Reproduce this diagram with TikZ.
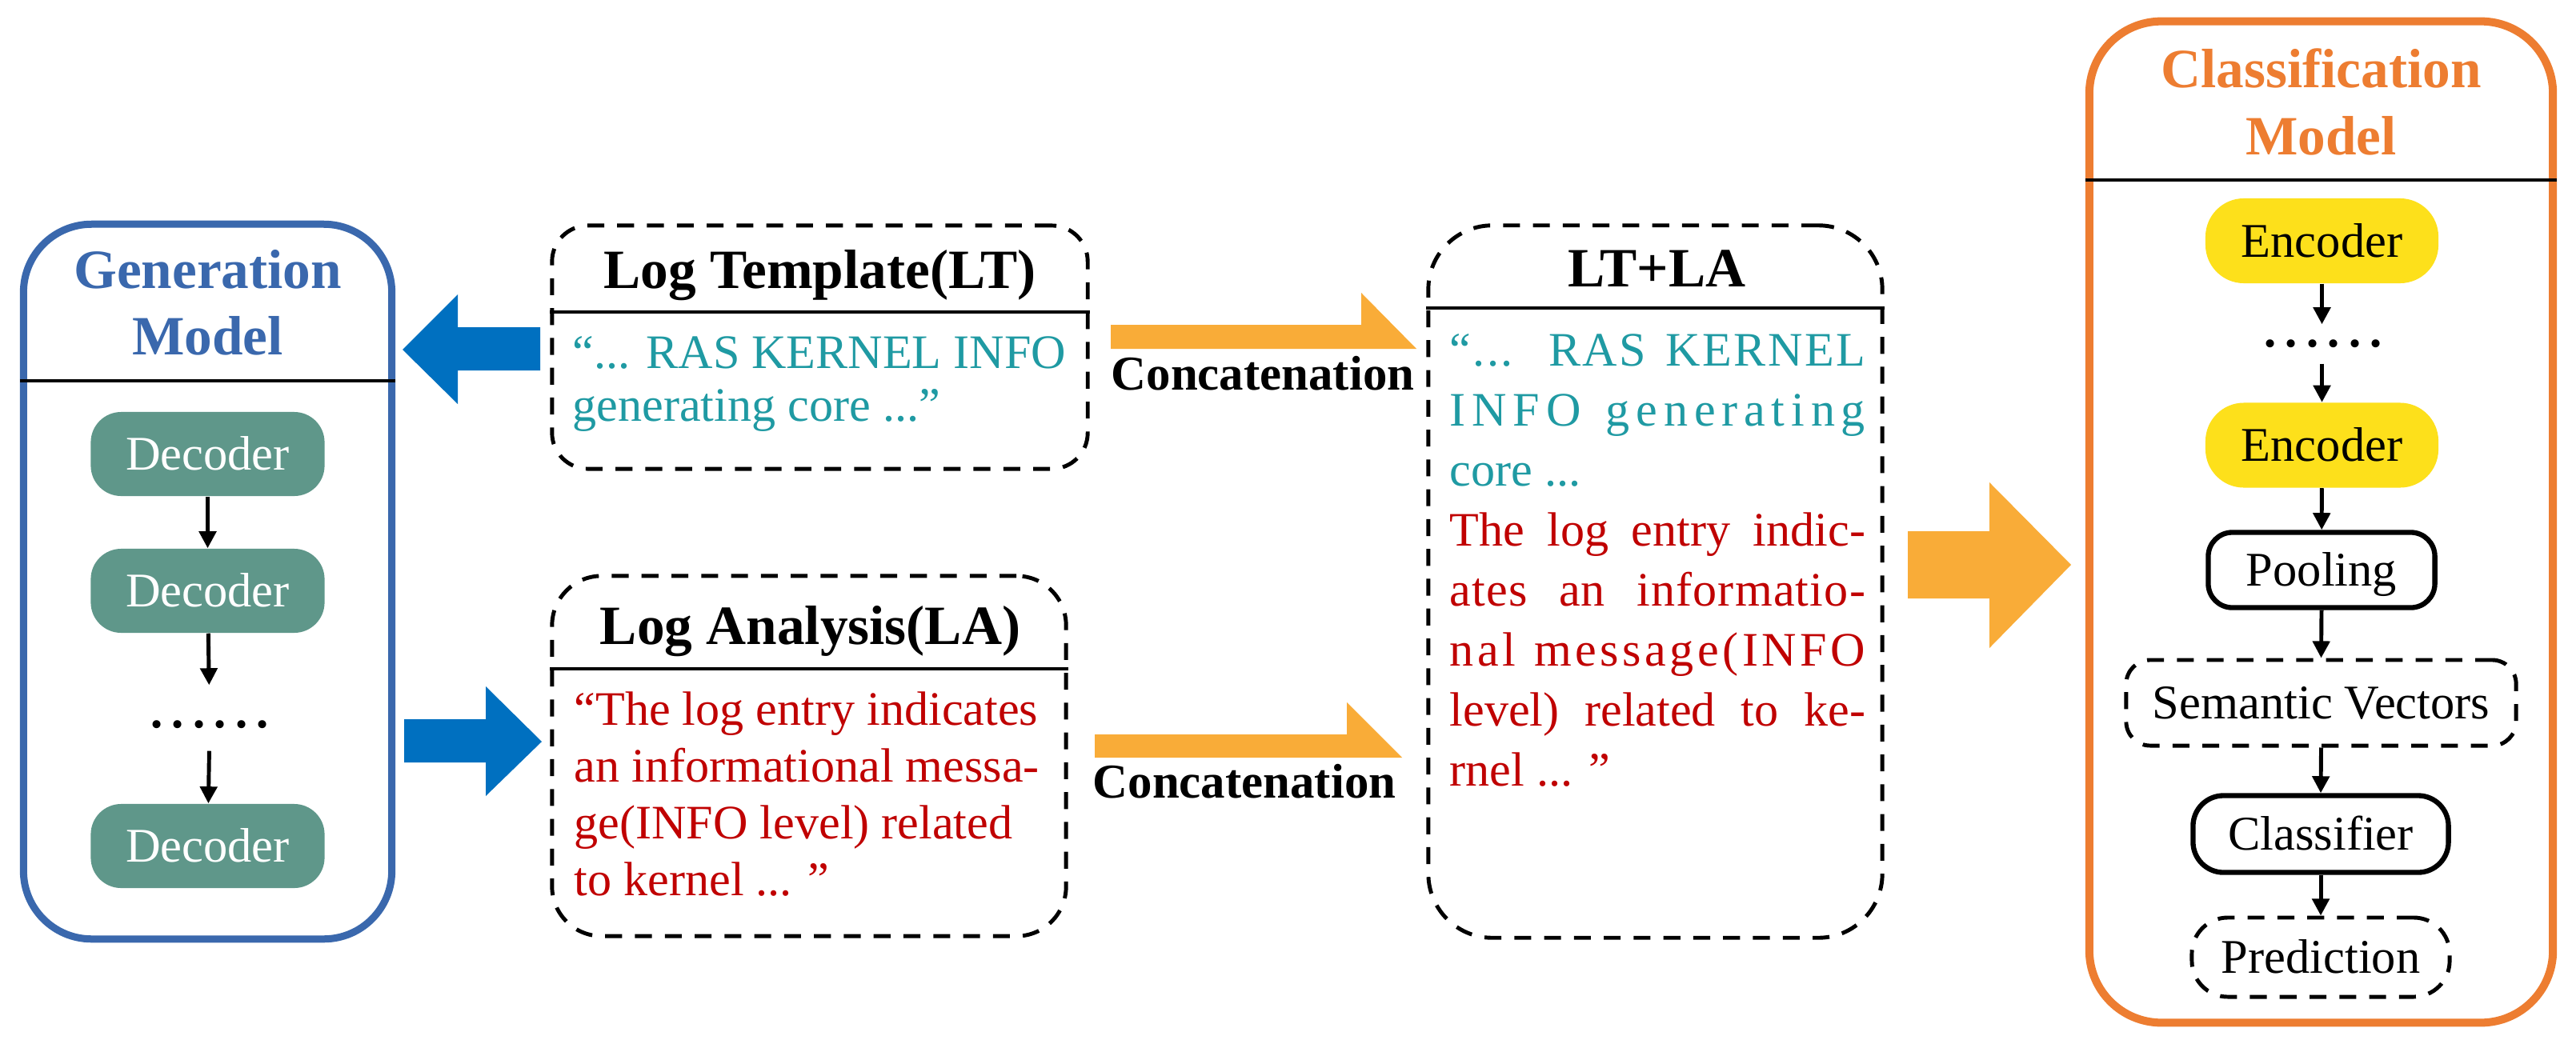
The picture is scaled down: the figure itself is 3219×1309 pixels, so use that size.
\documentclass[tikz,border=0pt]{standalone}
\usepackage{fontspec}
\setmainfont{Liberation Serif}
\usetikzlibrary{arrows.meta}
\definecolor{genblue}{HTML}{3A68AD}
\definecolor{arrblue}{HTML}{0070C0}
\definecolor{decgreen}{HTML}{5F978A}
\definecolor{clsorange}{HTML}{ED7D31}
\definecolor{arrorange}{HTML}{F9AC38}
\definecolor{encyellow}{HTML}{FDE01B}
\definecolor{tealtxt}{HTML}{1F9AA3}
\definecolor{redtxt}{HTML}{C00000}
\newlength\jw \setlength\jw{5.19cm}
\newcommand\ttlfont{\fontsize{19.7}{23}\selectfont\bfseries}
\newcommand\bodyfont{\fontsize{17.1}{20}\selectfont}
\newcommand\compfont{\fontsize{17.2}{20}\selectfont}
\newcommand\catfont{\fontsize{17.3}{20}\selectfont\bfseries}
\newcommand\dotsfont{\fontsize{24}{24}\selectfont\addfontfeature{LetterSpace=6.4}}
\begin{document}
\begin{tikzpicture}[x=0.01cm,y=-0.01cm,
  frame/.style={rectangle, inner sep=0pt},
  comp/.style={rectangle, inner sep=0pt, font=\compfont, text height=0.40cm, text depth=0cm},
  dashbox/.style={draw=black, line width=1.4pt, dash pattern=on 6pt off 4.6pt},
  sepline/.style={line width=1.1pt},
  arr/.style={line width=1.4pt, -{Triangle[length=6pt,width=6pt]}},
  txt/.style={inner sep=0pt}]
\useasboundingbox (0,0) rectangle (3219,1309);
\fill[white] (0,0) rectangle (3219,1309);

% ---------------- Generation model ----------------
\node[frame, draw=genblue, line width=2.56pt, rounded corners=0.85cm,
      minimum width=4.60cm, minimum height=8.93cm] (gen) at (259.5,727) {};
\coordinate (gsep) at (0,476);
\draw[sepline] (gen.west |- gsep) -- (gen.east |- gsep);
\node[txt, anchor=base, font=\ttlfont, text=genblue] (gt1) at (259.5,360) {Generation};
\node[txt, anchor=base, font=\ttlfont, text=genblue] (gt2) at (259.5,443) {Model};
\tikzset{decbox/.style={comp, fill=decgreen, text=white, rounded corners=0.38cm,
      minimum width=2.92cm, minimum height=1.05cm}}
\node[decbox] (dec1) at (259.5,567.5) {Decoder};
\node[decbox] (dec2) at (259.5,738.5) {Decoder};
\node[txt, font=\dotsfont] (gdots) at (262,906) {......};
\node[decbox] (dec3) at (259.5,1057.5) {Decoder};
\draw[arr] (dec1) -- (dec2);
\draw[arr, shorten >=0.44cm] (dec2) -- (gdots);
\draw[arr, shorten <=0.27cm] (gdots) -- (dec3);

% ---------------- Blue arrows ----------------
\fill[arrblue] (675,409) -- (572,409) -- (572,368) -- (503,437) -- (572,505) -- (572,463) -- (675,463) -- cycle;
\fill[arrblue] (505,899) -- (607,899) -- (607,858) -- (677,927) -- (607,995) -- (607,953) -- (505,953) -- cycle;

% ---------------- Log Template ----------------
\node[frame, dashbox, rounded corners=0.45cm, minimum width=6.69cm, minimum height=3.04cm] (lt) at (1024.5,434) {};
\coordinate (ltsep) at (0,390);
\draw[sepline] (lt.west |- ltsep) -- (lt.east |- ltsep);
\node[txt, anchor=base, font=\ttlfont] (ltt) at (1024.5,360) {Log Template(LT)};
\node[txt, anchor=base west, font=\bodyfont, text=tealtxt] (ltb) at (715,460)
  {\vtop{\baselineskip=18.8pt\hbox{“... RAS KERNEL INFO}\hbox{generating core ...”}}};

% ---------------- Log Analysis ----------------
\node[frame, dashbox, rounded corners=0.62cm, minimum width=6.42cm, minimum height=4.50cm] (la) at (1011,945) {};
\coordinate (lasep) at (0,836);
\draw[sepline] (la.west |- lasep) -- (la.east |- lasep);
\node[txt, anchor=base, font=\ttlfont] (lat) at (1012.5,805) {Log Analysis(LA)};
\node[txt, anchor=base west, font=\bodyfont, text=redtxt] (lab) at (717,906)
  {\vtop{\baselineskip=20.2pt
   \hbox{“The log entry indicates}
   \hbox{an informational messa-}
   \hbox{ge(INFO level) related}
   \hbox{to kernel ... ”}}};

% ---------------- Concatenation arrows ----------------
\fill[arrorange] (1388,406) -- (1701,406) -- (1701,366) -- (1770,436) -- (1388,436) -- cycle;
\fill[arrorange] (1368,918) -- (1683,918) -- (1683,878) -- (1752,947) -- (1368,947) -- cycle;
\node[txt, anchor=base west, font=\catfont] (cat1) at (1388,487) {Concatenation};
\node[txt, anchor=base west, font=\catfont] (cat2) at (1365,997) {Concatenation};

% ---------------- LT+LA ----------------
\node[frame, dashbox, rounded corners=0.8cm, minimum width=5.67cm, minimum height=8.90cm] (ltla) at (2068.5,727) {};
\coordinate (ltlasep) at (0,385);
\draw[sepline] (ltla.west |- ltlasep) -- (ltla.east |- ltlasep);
\node[txt, anchor=base, font=\ttlfont] (ltlat) at (2070.5,358) {LT+LA};
\node[txt, anchor=base west, font=\bodyfont] (ltlab) at (1811,457)
  {\vtop{\baselineskip=21.34pt
   \hbox to\jw{\color{tealtxt}\addfontfeature{LetterSpace=4}“... RAS KERNEL}
   \hbox to\jw{\color{tealtxt}\addfontfeature{LetterSpace=13}INFO generating}
   \hbox{\color{tealtxt}core ...}
   \hbox to\jw{\color{redtxt}The log entry indic-}
   \hbox to\jw{\color{redtxt}\addfontfeature{LetterSpace=2}ates an informatio-}
   \hbox to\jw{\color{redtxt}\addfontfeature{LetterSpace=7.5}nal message(INFO}
   \hbox to\jw{\color{redtxt}level) related to ke-}
   \hbox{\color{redtxt}rnel ... ”}}};

% ---------------- Big orange arrow ----------------
\fill[arrorange] (2384,664) -- (2486,664) -- (2486,603) -- (2588,706) -- (2486,810) -- (2486,748) -- (2384,748) -- cycle;

% ---------------- Classification model ----------------
\node[frame, draw=clsorange, line width=2.85pt, rounded corners=0.9cm,
      minimum width=5.79cm, minimum height=12.51cm] (cls) at (2900.5,652.5) {};
\coordinate (csep) at (0,225);
\draw[sepline] (cls.west |- csep) -- (cls.east |- csep);
\node[txt, anchor=base, font=\ttlfont, text=clsorange] (ct1) at (2900.5,109) {Classification};
\node[txt, anchor=base, font=\ttlfont, text=clsorange] (ct2) at (2900.5,193) {Model};
\tikzset{encbox/.style={comp, fill=encyellow, rounded corners=0.48cm,
      minimum width=2.91cm, minimum height=1.06cm}}
\node[encbox] (enc1) at (2901.5,301) {Encoder};
\node[txt, font=\dotsfont] (cdots) at (2903,430) {......};
\node[encbox] (enc2) at (2901.5,556.5) {Encoder};
\node[comp, draw, line width=1.8pt, rounded corners=0.3cm, minimum width=2.83cm, minimum height=0.94cm] (pool) at (2901,712.5) {Pooling};
\node[comp, dashbox, rounded corners=0.3cm, minimum width=4.87cm, minimum height=1.07cm] (sv) at (2900.5,878.5) {Semantic Vectors};
\node[comp, draw, line width=1.8pt, rounded corners=0.38cm, minimum width=3.19cm, minimum height=0.96cm] (clf) at (2900,1042.5) {Classifier};
\node[comp, dashbox, rounded corners=0.45cm, minimum width=3.22cm, minimum height=0.99cm] (pred) at (2900,1196.5) {Prediction};
\draw[arr, shorten >=0.19cm] (enc1.south) -- (enc1.south |- cdots.north);
\draw[arr, shorten <=0.19cm] (enc2.north |- cdots.south) -- (enc2.north);
\draw[arr] (enc2) -- (pool);
\draw[arr] (pool.south) -- (sv.north);
\draw[arr] (sv.south) -- (clf.north);
\draw[arr] (clf.south) -- (pred.north);
\end{tikzpicture}
\end{document}
